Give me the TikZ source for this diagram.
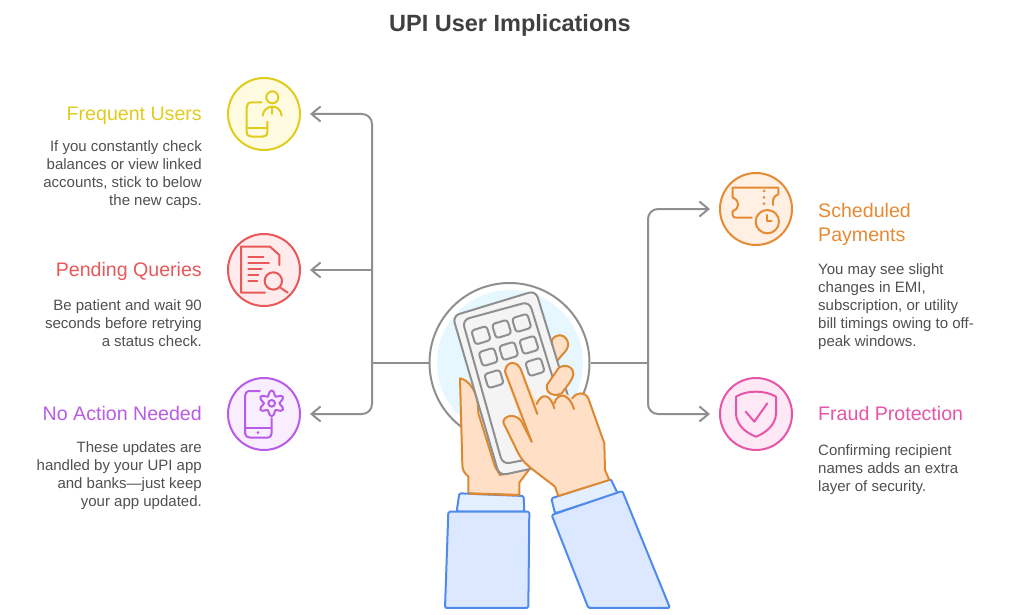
\documentclass[tikz,border=0pt]{standalone}
\usepackage{fontspec}
\setmainfont{Liberation Sans}
\usetikzlibrary{arrows.meta}
\definecolor{gline}{HTML}{8F8F8F}
\definecolor{bodyc}{HTML}{505050}
\definecolor{titlec}{HTML}{404040}
\definecolor{yel}{HTML}{E0CC1E}\definecolor{yelf}{HTML}{FFFBE0}
\definecolor{red1}{HTML}{E85858}\definecolor{redf}{HTML}{FFEBEB}
\definecolor{pur}{HTML}{B85CE8}\definecolor{purf}{HTML}{F9EEFF}
\definecolor{ora}{HTML}{E68A33}\definecolor{oraf}{HTML}{FFF0E3}
\definecolor{pin}{HTML}{E655A8}\definecolor{pinf}{HTML}{FFE8F6}
\definecolor{skin}{HTML}{FFE0C6}\definecolor{skinl}{HTML}{DD8833}
\definecolor{slv}{HTML}{DBE8FF}\definecolor{slvl}{HTML}{4F8BEB}
\definecolor{cuff}{HTML}{E3EEFF}
\definecolor{phf}{HTML}{F4F4F4}
\definecolor{halo}{HTML}{E6F7FF}
\tikzset{
 iconc/.style={circle,draw=#1,line width=2pt,minimum size=72pt,inner sep=0pt},
 ic/.style={line width=2pt,line cap=round,line join=round,draw=#1},
 conn/.style={draw=gline,line width=2pt,rounded corners=10pt},
 tip/.style={-{Straight Barb[length=9pt,width=15pt,line width=2pt]}},
 head/.style={font=\fontsize{19.6}{22}\selectfont,inner sep=0pt},
 body/.style={font=\fontsize{15}{18}\selectfont,text=bodyc,inner sep=0pt},
 zoomed/.style={shift={#1},x=0.3333pt,y=-0.3333pt},
 hand/.style={fill=skin,draw=skinl,line width=2pt,line join=round,line cap=round},
 sleeve/.style={fill=slv,draw=slvl,line width=2pt,line join=round,rounded corners=1.5pt},
 keyb/.style={fill=phf,draw=gline,line width=2pt,rounded corners=3pt,line join=round},
}
\begin{document}
\begin{tikzpicture}[x=1pt,y=-1pt]
\useasboundingbox[fill=white] (0,0) rectangle (1020,615);
\node[font=\bfseries\fontsize{23.5}{28}\selectfont,text=titlec,inner sep=0pt] (title) at (510,25.5) {UPI User Implications};

% hub
\fill[halo] (510,363) circle (73);
\node[circle,draw=gline,line width=2pt,minimum size=160pt,inner sep=0pt] (hub) at (509.5,363) {};

% icon circles
\node[iconc=yel,fill=yelf] (c1) at (264,114) {};
\node[iconc=red1,fill=redf] (c2) at (264,270) {};
\node[iconc=pur,fill=purf] (c3) at (264,414) {};
\node[iconc=ora,fill=oraf] (c4) at (756,209) {};
\node[iconc=pin,fill=pinf] (c5) at (756,414) {};

% connectors
\coordinate (jl) at (372,363);
\coordinate (jr) at (648,363);
\coordinate (jm) at (372,270);
\draw[conn] (hub.west) -- (jl);
\draw[conn] (hub.east) -- (jr);
\draw[conn,tip] (jl) |- ([xshift=9pt]c1.east);
\draw[conn,tip] (jm) -- ([xshift=9pt]c2.east);
\draw[conn,tip] (jl) |- ([xshift=9pt]c3.east);
\draw[conn,tip] (jr) |- ([xshift=-9pt]c4.west);
\draw[conn,tip] (jr) |- ([xshift=-9pt]c5.west);

% hands and phone
\begin{scope}[zoomed={(420,280)}]
 % left hand
 \draw[hand] (120,295) .. controls (145,300) and (175,330) .. (175,400) -- (225,560) -- (240,585) -- (330,565) -- (298,608) -- (298,645) -- (145,640) -- (145,590) .. controls (132,578) and (127,570) .. (127,555) -- cycle;
 % finger behind phone
 \draw[hand] (395,180) .. controls (410,160) and (430,162) .. (440,178) .. controls (448,190) and (445,205) .. (435,215) -- (405,250) -- cycle;
 % phone
 \draw[fill=phf,draw=gline,line width=2pt,rounded corners=7pt] (98,108) -- (347,32) -- (500,530) -- (238,587) -- cycle;
 \draw[fill=phf,draw=gline,line width=2pt,rounded corners=7pt] (127,120) -- (328,65) -- (465,510) -- (248,553) -- cycle;
 \foreach \kx/\ky in {183/166,245/147,305/129,205/231,266/213,327/195,222/297,345/261}{
  \draw[keyb,shift={(\kx,\ky)},rotate=17] (-24,-22) rectangle (24,22);
 }
 % finger over phone
 \draw[hand] (381,315) -- (415,265) .. controls (432,250) and (462,258) .. (460,285) .. controls (458,298) and (440,320) .. (425,340) .. controls (410,350) and (375,345) .. (381,315) -- cycle;
 % sleeves
 \draw[sleeve,fill=cuff] (118,640) -- (311,648) -- (313,695) -- (110,695) -- cycle;
 \draw[sleeve] (85,695) -- (328,695) -- (325,984) -- (75,984) -- cycle;
 \draw[sleeve,fill=cuff] (394,655) -- (572,597) -- (593,640) -- (405,700) -- cycle;
 \draw[sleeve] (395,705) -- (607,633) -- (750,984) -- (505,984) -- cycle;
 % left wrist line
 \draw[skinl,line width=2pt] (145,641) -- (298,646);
 % right hand
 \path[fill=skin] (252,272) .. controls (258,240) and (295,240) .. (305,275) -- (350,365) .. controls (365,338) and (390,345) .. (403,365) .. controls (412,338) and (445,335) .. (457,355) .. controls (470,335) and (495,335) .. (505,355) -- (553,490) -- (555,570) -- (568,600) -- (415,648) -- (405,620) -- (340,570) -- (300,530) -- (250,425) .. controls (250,405) and (290,400) .. (305,430) -- cycle;
 \draw[hand,fill=none] (335,485) -- (255,275) .. controls (258,240) and (295,240) .. (305,275) -- (352,402);
 \draw[hand,fill=none] (350,372) .. controls (365,338) and (390,340) .. (403,385);
 \draw[hand,fill=none] (403,370) .. controls (412,338) and (445,335) .. (462,387);
 \draw[hand,fill=none] (457,355) .. controls (470,335) and (495,335) .. (505,355) -- (553,490) -- (555,570) -- (568,600);
 \draw[hand,fill=none] (568,600) -- (415,648) -- (405,620) -- (340,570) .. controls (320,555) and (305,540) .. (295,520) -- (250,428) .. controls (248,405) and (295,395) .. (310,435) -- (335,485);
\end{scope}

% yellow icon
\begin{scope}[zoomed={(220,70)}]
 \draw[ic=yel] (125,97) -- (95,97) .. controls (85,97) and (80,103) .. (80,112) -- (80,185) .. controls (80,195) and (86,200) .. (95,200) -- (128,200) .. controls (137,200) and (142,195) .. (142,185) -- (142,155);
 \draw[ic=yel] (80,175) -- (142,175);
 \draw[ic=yel] (157,82) circle (18);
 \draw[ic=yel] (128,137) .. controls (130,118) and (145,110) .. (157,110) .. controls (170,110) and (183,118) .. (185,137);
 \draw[ic=yel] (157,110) -- (157,132);
 % red icon
 \draw[ic=red1] (135,668) -- (63,668) -- (63,530) -- (150,530) -- (178,555) -- (178,585);
 \draw[ic=red1] (85,560) -- (130,560) (85,578) -- (147,578) (85,597) -- (125,597) (85,615) -- (115,615) (85,632) -- (112,632);
 \draw[ic=red1] (160,633) circle (26);
 \draw[ic=red1] (180,652) -- (203,668);
\end{scope}

% purple icon
\begin{scope}[zoomed={(220,370)}]
 \draw[ic=pur] (120,63) -- (90,63) .. controls (80,63) and (75,70) .. (75,78) -- (75,190) .. controls (75,198) and (82,203) .. (90,203) -- (140,203) .. controls (150,203) and (155,198) .. (155,190) -- (155,145);
 \draw[ic=pur] (75,175) -- (155,175);
 \fill[pur] (114,188) circle (4.5);
 \draw[ic=pur] plot[smooth cycle,samples=36,domain=0:350,variable=\t] ({155+(31+8*cos(6*(\t-90)))*cos(\t)},{100+(31+8*cos(6*(\t-90)))*sin(\t)});
 \draw[ic=pur] (155,100) circle (10);
\end{scope}

% orange icon
\begin{scope}[zoomed={(710,165)}]
 \draw[ic=ora] (125,158) -- (78,158) .. controls (72,158) and (68,155) .. (68,150) -- (68,138) .. controls (90,132) and (90,105) .. (68,98) -- (68,68) -- (205,68) -- (205,88) .. controls (192,92) and (186,105) .. (189,120);
 \foreach \dy in {78,97,116} \fill[ora] (162,\dy) circle (4.5);
 \draw[ic=ora] (172,170) circle (35);
 \draw[ic=ora] (172,150) -- (172,168) -- (185,168);
\end{scope}

% pink icon
\begin{scope}[zoomed={(710,370)}]
 \draw[ic=pin] (78,80) .. controls (110,60) and (165,60) .. (198,80) -- (198,130) .. controls (198,165) and (165,190) .. (138,200) .. controls (110,190) and (78,165) .. (78,130) -- cycle;
 \draw[ic=pin] (107,125) -- (133,155) -- (172,100);
\end{scope}

% texts
\node[head,text=yel,anchor=mid east] (t1) at (202,118) {Frequent Users};
\node[body,align=right,anchor=east] (b1) at (202,175) {If you constantly check\\balances or view linked\\accounts, stick to below\\the new caps.};
\node[head,text=red1,anchor=mid east] (t2) at (202,274) {Pending Queries};
\node[body,align=right,anchor=east] (b2) at (202,323.5) {Be patient and wait 90\\seconds before retrying\\a status check.};
\node[head,text=pur,anchor=mid east] (t3) at (202,418) {No Action Needed};
\node[body,align=right,anchor=east] (b3) at (202,476) {These updates are\\handled by your UPI app\\and banks—just keep\\your app updated.};
\node[head,text=ora,align=left,anchor=west,font=\fontsize{19.6}{24}\selectfont] (t4) at (818,224.5) {Scheduled\\Payments};
\node[body,align=left,anchor=west] (b4) at (818,307) {You may see slight\\changes in EMI,\\subscription, or utility\\bill timings owing to off-\\peak windows.};
\node[head,text=pin,anchor=mid west] (t5) at (818,418) {Fraud Protection};
\node[body,align=left,anchor=west] (b5) at (818,469.5) {Confirming recipient\\names adds an extra\\layer of security.};
\end{tikzpicture}
\end{document}
